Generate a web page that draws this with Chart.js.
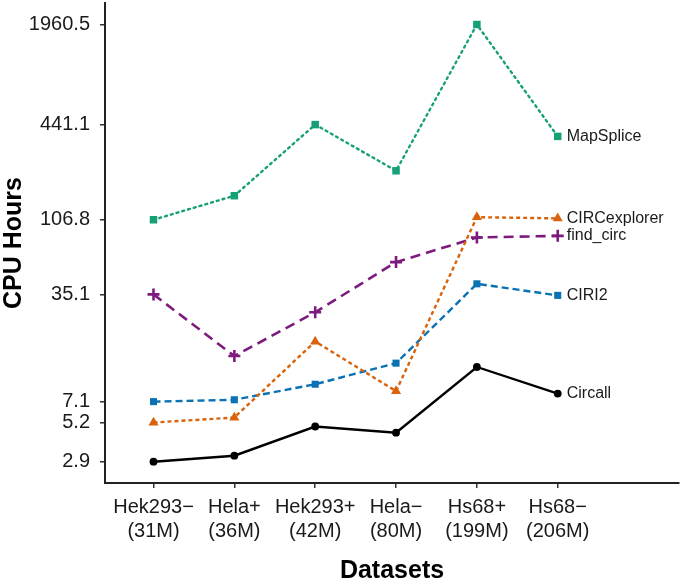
<!DOCTYPE html>
<html>
<head>
<meta charset="utf-8">
<script src="https://cdn.jsdelivr.net/npm/chart.js@4.4.1/dist/chart.umd.min.js"></script>
<style>
  html, body { margin: 0; padding: 0; background: #fff; }
  #wrap { width: 685px; height: 581px; }
</style>
</head>
<body>
<div id="wrap"><canvas id="myChart"></canvas></div>
<script>
const datasetsLabels = ["Hek293−\n(31M)", "Hela+\n(36M)", "Hek293+\n(42M)", "Hela−\n(80M)", "Hs68+\n(199M)", "Hs68−\n(206M)"];

const yTicks = [2.9, 5.2, 7.1, 35.1, 106.8, 441.1, 1960.5];

const circall      = [2.9, 3.17, 4.9, 4.47, 11.9, 8.0];
const circexplorer = [5.2, 5.6, 17.4, 8.3, 111, 109];
const findCirc     = [35.1, 14.0, 26.9, 56.8, 82, 84];
const ciri2        = [7.1, 7.3, 9.2, 12.6, 41.1, 34.6];
const mapsplice    = [106.8, 152.8, 441.1, 221.6, 1960.5, 370];

const FONT = "'Liberation Sans', Arial, Helvetica, sans-serif";

function pts(arr) {
    return arr.map((v, i) => ({ x: i, y: v }));
}

// text label next to the last point of each line
const endLabels = {
    id: 'endLabels',
    afterDatasetsDraw(chart) {
        const c = chart.ctx;
        c.save();
        c.font = '16px ' + FONT;
        c.fillStyle = '#1a1a1a';
        c.textBaseline = 'middle';
        c.textAlign = 'left';
        chart.data.datasets.forEach((ds, i) => {
            const meta = chart.getDatasetMeta(i);
            const last = meta.data[meta.data.length - 1];
            c.fillText(ds.label, last.x + 9, last.y);
        });
        c.restore();
    }
};

const ctx = document.getElementById('myChart');

const chart = new Chart(ctx, {
    type: 'line',
    data: {
        datasets: [
            {
                label: 'MapSplice',
                data: pts(mapsplice),
                borderColor: '#16a078',
                backgroundColor: '#16a078',
                borderWidth: 2.4,
                borderDash: [2, 4],
                borderCapStyle: 'round',
                pointStyle: 'rect',
                pointRadius: 5.3,
                pointBorderWidth: 0
            },
            {
                label: 'CIRCexplorer',
                data: pts(circexplorer),
                borderColor: '#d9620a',
                backgroundColor: '#d9620a',
                borderWidth: 2.4,
                borderDash: [4, 3],
                pointStyle: 'triangle',
                pointRadius: 5.8,
                pointBorderWidth: 0
            },
            {
                label: 'find_circ',
                data: pts(findCirc),
                borderColor: '#7d1a7e',
                backgroundColor: '#7d1a7e',
                borderWidth: 2.6,
                borderDash: [10, 6],
                pointStyle: 'cross',
                pointRadius: 6,
                pointBorderWidth: 2.6
            },
            {
                label: 'CIRI2',
                data: pts(ciri2),
                borderColor: '#0a72b3',
                backgroundColor: '#0a72b3',
                borderWidth: 2.4,
                borderDash: [7, 4],
                pointStyle: 'rect',
                pointRadius: 5,
                pointBorderWidth: 0
            },
            {
                label: 'Circall',
                data: pts(circall),
                borderColor: '#000000',
                backgroundColor: '#000000',
                borderWidth: 2.4,
                pointStyle: 'circle',
                pointRadius: 3.9,
                pointBorderWidth: 0
            }
        ]
    },
    options: {
        responsive: true,
        maintainAspectRatio: false,
        animation: false,
        layout: { autoPadding: false, padding: { top: 3, right: 6, left: 0, bottom: 0 } },
        plugins: {
            legend: { display: false },
            tooltip: { enabled: false }
        },
        scales: {
            x: {
                type: 'linear',
                min: -0.6,
                max: 6.5,
                afterBuildTicks: (s) => { s.ticks = datasetsLabels.map((_, i) => ({ value: i })); },
                afterFit: (s) => {
                    s.height = 98;
                    s.paddingLeft = 0;
                    s.paddingRight = 0;
                },
                ticks: {
                    autoSkip: false,
                    maxRotation: 0,
                    padding: 7,
                    color: '#1a1a1a',
                    font: { family: FONT, size: 20, lineHeight: 1.2 },
                    callback: (v) => datasetsLabels[v] ? datasetsLabels[v].split('\n') : ''
                },
                grid: { drawOnChartArea: false, tickLength: 5, color: '#333', lineWidth: 1.5 },
                border: { color: '#222', width: 2 },
                title: {
                    display: true,
                    text: 'Datasets',
                    color: '#000',
                    font: { family: FONT, size: 25, weight: 'bold', lineHeight: 1 },
                    padding: { top: 0, bottom: -3 }
                }
            },
            y: {
                type: 'logarithmic',
                min: 2.111,
                max: 2702,
                afterBuildTicks: (s) => { s.ticks = yTicks.map(v => ({ value: v })); },
                afterFit: (s) => {
                    s.width = 105;
                    s.paddingTop = 0;
                    s.paddingBottom = 0;
                },
                ticks: {
                    autoSkip: false,
                    padding: 10,
                    color: '#1a1a1a',
                    font: { family: FONT, size: 20 },
                    callback: (v) => Number(v).toFixed(1)
                },
                grid: { drawOnChartArea: false, tickLength: 5, color: '#333', lineWidth: 1.5 },
                border: { color: '#222', width: 2 },
                title: {
                    display: true,
                    text: 'CPU Hours',
                    color: '#000',
                    font: { family: FONT, size: 25, weight: 'bold', lineHeight: 1 },
                    padding: { top: 2, bottom: 0 }
                }
            }
        }
    },
    plugins: [endLabels]
});
</script>
</body>
</html>
